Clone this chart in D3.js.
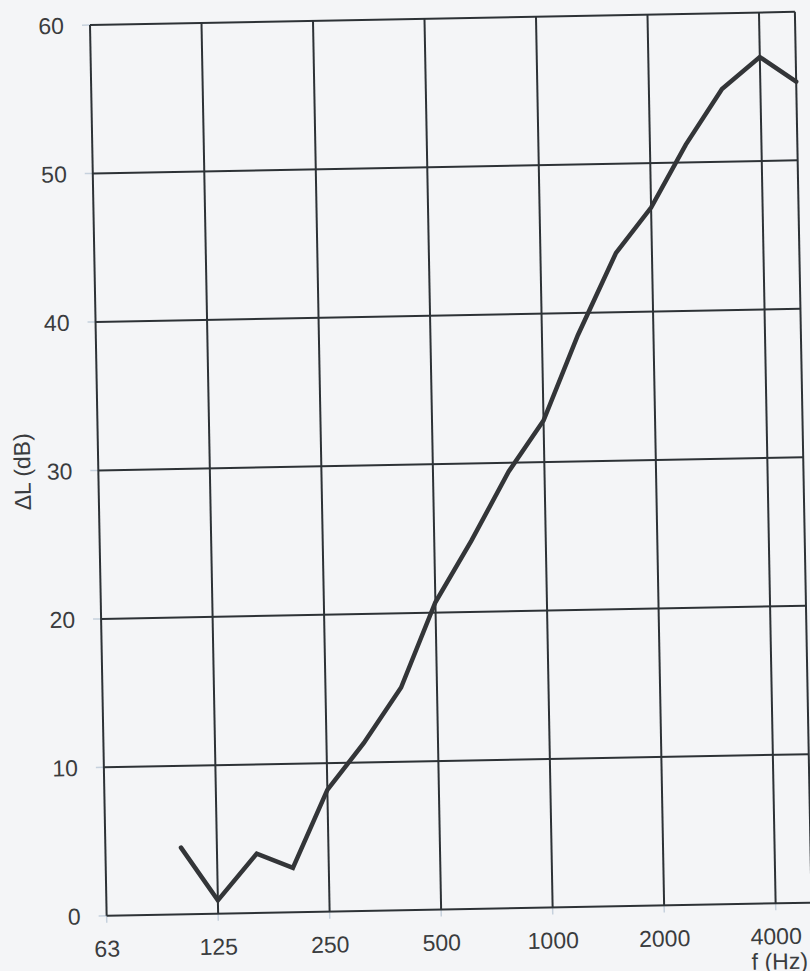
<!DOCTYPE html>
<html>
<head>
<meta charset="utf-8">
<script src="https://cdn.jsdelivr.net/npm/d3@7"></script>
<style>
  html, body { margin: 0; padding: 0; background: #f4f5f7; }
  svg { display: block; }
  text { font-family: "Liberation Sans", Arial, Helvetica, sans-serif; fill: #3a3c3e; }
</style>
</head>
<body>
<svg id="chart" width="810" height="971"></svg>
<script>
// One-third-octave band centre frequencies (Hz) and the level difference per band
const bandFreqs = [100, 125, 160, 200, 250, 315, 400, 500, 630, 800, 1000, 1250, 1600, 2000, 2500, 3150, 4000, 5000];
const deltaL    = [4.5, 0.9, 4.0, 3.0, 8.2, 11.3, 15.0, 20.7, 24.8, 29.4, 32.8, 38.5, 44.0, 47.0, 51.2, 54.9, 57.0, 55.3];

// Octave grid and its labels
const xTickValues = [62.5, 125, 250, 500, 1000, 2000, 4000];
const xTickLabels = ["63", "125", "250", "500", "1000", "2000", "4000"];
const yTickValues = [0, 10, 20, 30, 40, 50, 60];

const W = 705, H = 891;
const svg = d3.select("#chart");

svg.append("rect").attr("width", 810).attr("height", 971).attr("fill", "#f4f5f7");

// The sheet sits slightly tilted on the page
const g = svg.append("g").attr("transform", "translate(90,25) rotate(-1.07)");

const x = d3.scaleLog().base(2).domain([62.5, 5000]).range([0, W]);
const y = d3.scaleLinear().domain([0, 60]).range([H, 0]);

const gridColor = "#2d3236";
const tickColor = "#c6d1dd";

// faint tick stubs outside the frame
g.selectAll("line.ytick").data(yTickValues).join("line")
  .attr("x1", -8).attr("x2", 0)
  .attr("y1", d => y(d)).attr("y2", d => y(d))
  .attr("stroke", tickColor).attr("stroke-width", 1.5);
g.selectAll("line.xtick").data(xTickValues).join("line")
  .attr("x1", d => x(d)).attr("x2", d => x(d))
  .attr("y1", H).attr("y2", H + 7)
  .attr("stroke", tickColor).attr("stroke-width", 1.5);

// horizontal grid
g.selectAll("line.hgrid").data(yTickValues).join("line")
  .attr("class", "hgrid")
  .attr("x1", 0).attr("x2", W)
  .attr("y1", d => y(d)).attr("y2", d => y(d))
  .attr("stroke", gridColor).attr("stroke-width", 2);

// vertical grid
g.selectAll("line.vgrid").data(xTickValues).join("line")
  .attr("class", "vgrid")
  .attr("x1", d => x(d)).attr("x2", d => x(d))
  .attr("y1", 0).attr("y2", H)
  .attr("stroke", gridColor).attr("stroke-width", 2);

// right frame edge
g.append("line")
  .attr("x1", W).attr("x2", W).attr("y1", 0).attr("y2", H)
  .attr("stroke", gridColor).attr("stroke-width", 2);

// y tick labels
g.selectAll("text.ylab").data(yTickValues).join("text")
  .attr("x", -26).attr("y", d => y(d)).attr("dy", "0.36em")
  .attr("text-anchor", "end").attr("font-size", 23)
  .text(d => d);

// x tick labels
g.selectAll("text.xlab").data(xTickValues).join("text")
  .attr("x", d => x(d)).attr("y", H + 41)
  .attr("text-anchor", "middle").attr("font-size", 23)
  .text((d, i) => xTickLabels[i]);

// axis titles
g.append("text")
  .attr("transform", `translate(-68,${H / 2}) rotate(-90)`)
  .attr("text-anchor", "middle").attr("font-size", 23)
  .text("ΔL (dB)");

g.append("text")
  .attr("x", x(4000) - 25).attr("y", H + 66)
  .attr("text-anchor", "start").attr("font-size", 23)
  .text("f (Hz)");

// measured curve
const line = d3.line()
  .x((d, i) => x(bandFreqs[i]))
  .y(d => y(d));

g.append("path")
  .datum(deltaL)
  .attr("d", line)
  .attr("fill", "none")
  .attr("stroke", "#333538")
  .attr("stroke-width", 4.5)
  .attr("stroke-linejoin", "miter")
  .attr("stroke-linecap", "round");
</script>
</body>
</html>
